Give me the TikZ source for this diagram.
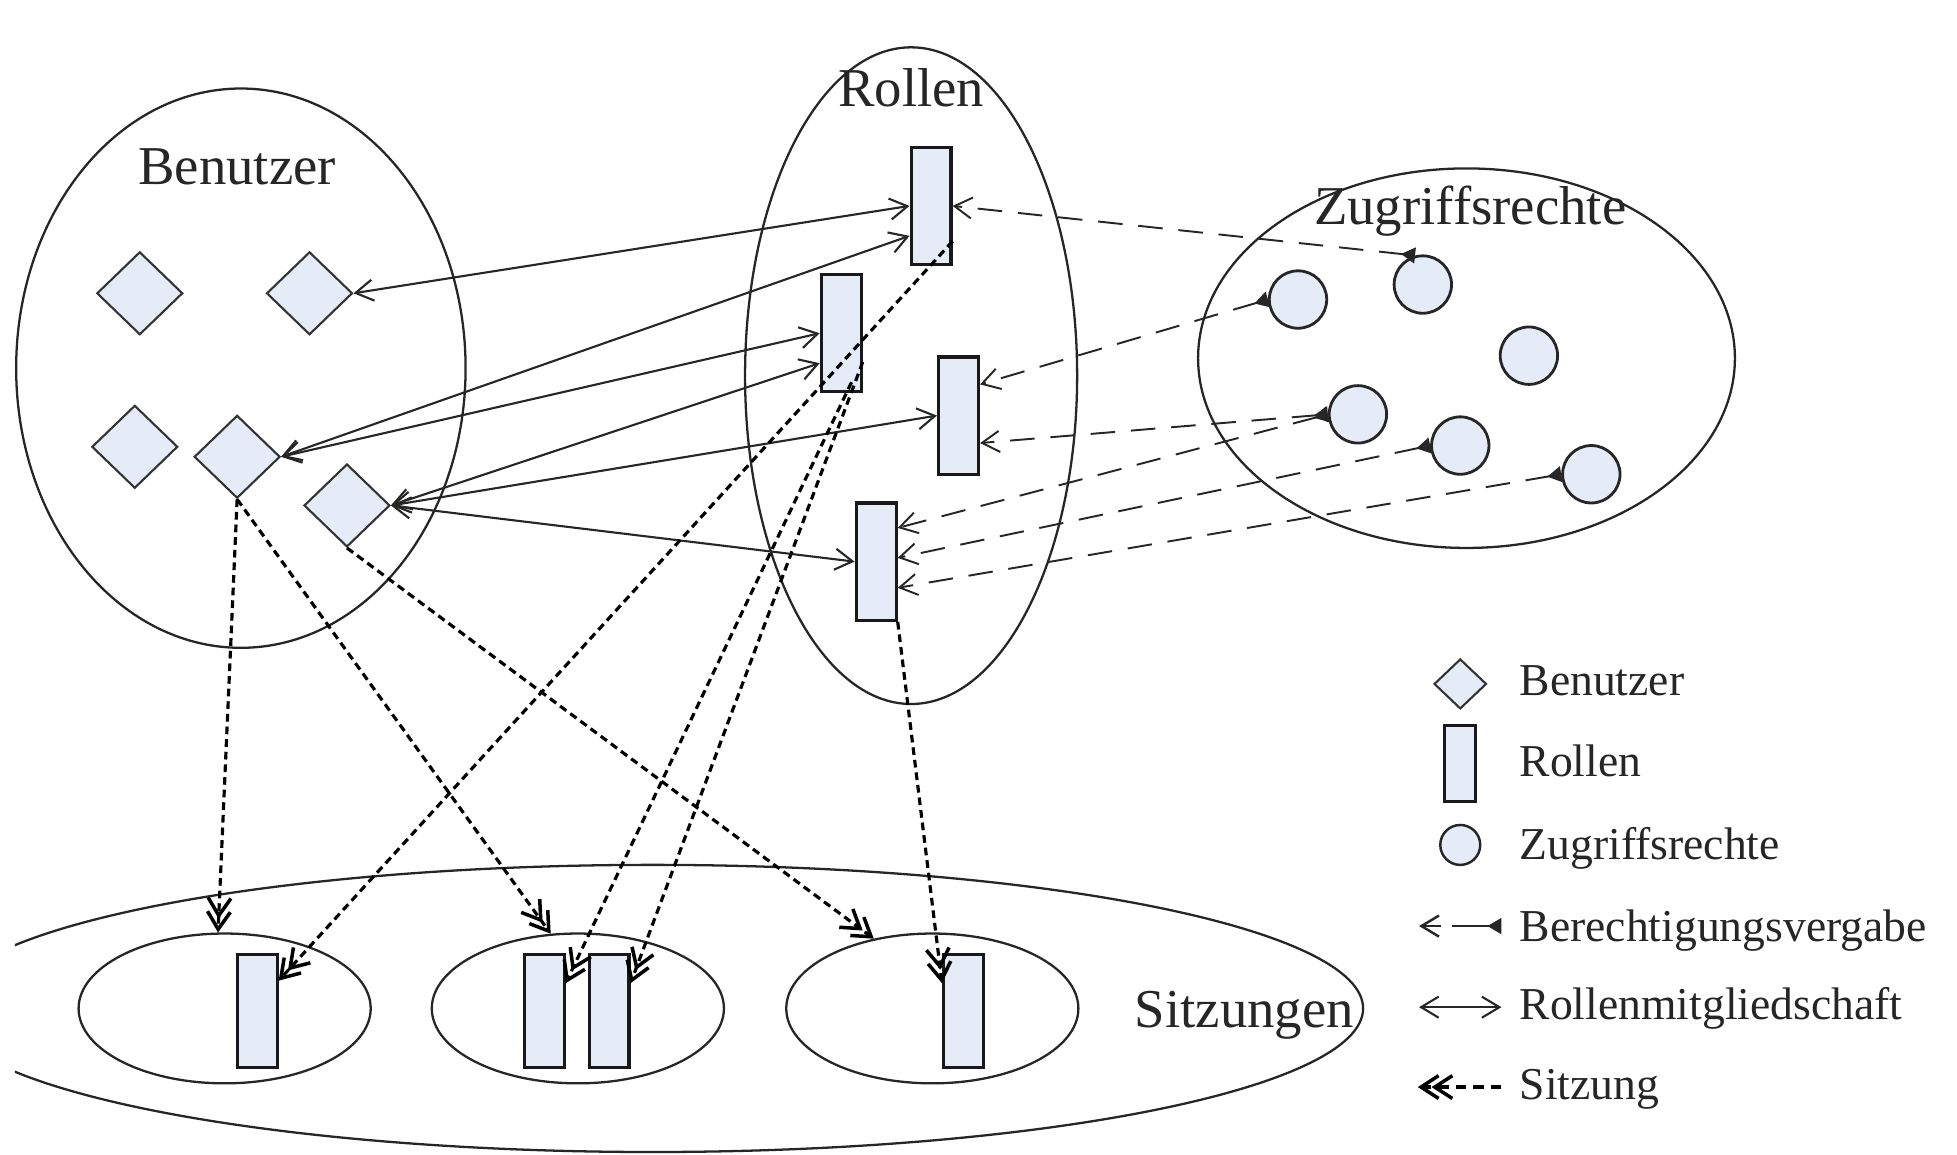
\documentclass[tikz,border=0pt]{standalone}
\usepackage{fontspec}
\setmainfont{Liberation Serif}
\usetikzlibrary{shapes.geometric,arrows.meta,calc}
\definecolor{itemfill}{RGB}{229,236,247}

\begin{document}
\begin{tikzpicture}[x=0.0125cm,y=-0.0125cm,
  group/.style={ellipse, draw=black!85, line width=0.65pt, inner sep=0pt},
  title/.style={font=\fontsize{15.6}{18}\selectfont, text=black!85, anchor=base, inner sep=0pt},
  legtext/.style={font=\fontsize{13}{15}\selectfont, text=black!85, anchor=base west, inner sep=0pt},
  user/.style={diamond, draw=black!80, line width=0.6pt, fill=itemfill, inner sep=0pt,
    minimum width=0.86cm, minimum height=0.83cm},
  role/.style={rectangle, draw=black!90, line width=0.9pt, fill=itemfill, inner sep=0pt,
    minimum width=0.4cm, minimum height=1.175cm},
  sessrole/.style={role, minimum height=1.125cm},
  priv/.style={circle, draw=black!85, line width=0.8pt, fill=itemfill, inner sep=0pt,
    minimum size=0.575cm},
  member/.style={line width=0.6pt, draw=black!85,
    {Straight Barb[length=5pt,width=6pt]}-{Straight Barb[length=5pt,width=6pt]}},
  grant/.style={line width=0.55pt, draw=black!85, dash pattern=on 7pt off 4.5pt,
    {Triangle[reversed,length=4pt,width=4.5pt]}-{Straight Barb[length=5pt,width=6pt]}},
  sitzung/.style={line width=0.9pt, draw=black, dash pattern=on 2.2pt off 1.4pt,
    -{Straight Barb[length=5pt,width=6.5pt,line width=1pt,sep=-2.5pt]Straight Barb[length=5pt,width=6.5pt,line width=1pt]}},
]
\useasboundingbox (0,0) rectangle (1568,925);
\clip (0,0) rectangle (1568,925);

% the four sets; the session set runs off the left edge of the figure
\node[group, minimum width=4.5cm, minimum height=5.6cm] (users) at (193,295) {};
\node[group, minimum width=3.325cm, minimum height=6.575cm] (roles) at (730,301) {};
\node[group, minimum width=5.375cm, minimum height=3.8cm] (rights) at (1175,287) {};
\begin{scope}
  \clip (12,0) rectangle (1568,925);
  \node[group, minimum width=14.225cm, minimum height=2.875cm] (sessions) at (523,808) {};
\end{scope}
\node[group, minimum width=2.925cm, minimum height=1.5cm] (S1) at (180,808) {};
\node[group, minimum width=2.925cm, minimum height=1.5cm] (S2) at (463,808) {};
\node[group, minimum width=2.925cm, minimum height=1.5cm] (S3) at (747,808) {};

% set titles
\node[title] (tUsers) at (190,148) {Benutzer};
\node[title] (tRoles) at (730,85) {Rollen};
\node[title] (tRights) at (1178,180) {Zugriffsrechte};
\node[title] (tSessions) at (997,823) {Sitzungen};

% users
\node[user] (D1) at (112,235) {};
\node[user] (D2) at (248,235) {};
\node[user] (D3) at (108,358) {};
\node[user] (D4) at (190,366) {};
\node[user] (D5) at (278,405) {};

% roles
\node[role] (R1) at (746,165) {};
\node[role] (R2) at (674,267) {};
\node[role] (R3) at (768,333) {};
\node[role] (R4) at (702,450) {};

% access rights
\node[priv] (C1) at (1040,240) {};
\node[priv] (C2) at (1140,228) {};
\node[priv] (C3) at (1225,285) {};
\node[priv] (C4) at (1088,332) {};
\node[priv] (C5) at (1170,357) {};
\node[priv] (C6) at (1275,380) {};

% roles active in the sessions
\node[sessrole] (Q1) at (206,810) {};
\node[sessrole] (Q2a) at (436,810) {};
\node[sessrole] (Q2b) at (488,810) {};
\node[sessrole] (Q3) at (772,810) {};

% role membership
\draw[member] (D2.east) -- (R1.west);
\draw[member] (D4.east) -- ($(R1.west)+(0,24)$);
\draw[member] (D4.east) -- (R2.west);
\draw[member] (D5.east) -- ($(R2.west)+(0,24)$);
\draw[member] (D5.east) -- (R3.west);
\draw[member] (D5.east) -- (R4.west);

% permission assignment
\draw[grant] (C2.105) -- (R1.east);
\draw[grant] (C1.west) -- ($(R3.east)+(0,-25)$);
\draw[grant] (C4.west) -- ($(R3.east)+(0,22)$);
\draw[grant] (C4.west) -- ($(R4.east)+(0,-27)$);
\draw[grant] (C5.west) -- ($(R4.east)+(0,-3)$);
\draw[grant] (C6.west) -- ($(R4.east)+(0,21)$);

% sessions
\draw[sitzung] (D4.south) -- (S1.95);
\draw[sitzung] (D4.south) -- (S2.110);
\draw[sitzung] (D5.south) -- (S3.130);
\draw[sitzung] ($(R1.south east)+(0,-20)$) -- ($(Q1.north east)+(0,22)$);
\draw[sitzung] ($(R2.east)+(0,23)$) -- ($(Q2b.north east)+(0,24)$);
\draw[sitzung] ($(R2.south east)+(-9,-9)$) -- ($(Q2a.north east)+(0,24)$);
\draw[sitzung] (R4.south east) -- ($(Q3.north west)+(0,24)$);

% legend
\node[user, minimum width=0.525cm, minimum height=0.5cm] (lD) at (1170,548) {};
\node[role, line width=0.8pt, minimum width=0.31cm, minimum height=0.76cm] (lR) at (1170,612) {};
\node[priv, line width=0.7pt, minimum size=0.4cm] (lC) at (1170,677) {};
\node[legtext] (lDt) at (1217,557) {Benutzer};
\node[legtext] (lRt) at (1217,622) {Rollen};
\node[legtext] (lCt) at (1217,689) {Zugriffsrechte};
\node[legtext] (lGt) at (1217,754) {Berechtigungsvergabe};
\node[legtext] (lMt) at (1217,817) {Rollenmitgliedschaft};
\node[legtext] (lSt) at (1217,881) {Sitzung};

\coordinate (lGa) at (1203,742);
\coordinate (lGb) at (1137,742);
\coordinate (lMa) at (1137,807);
\coordinate (lMb) at (1203,807);
\coordinate (lSa) at (1203,871);
\coordinate (lSb) at (1136,871);
\draw[grant, line width=0.7pt, dash pattern=on 11pt off 3.2pt on 20pt] (lGa) -- (lGb);
\draw[member] (lMa) -- (lMb);
\draw[sitzung, dash pattern=on 3pt off 2pt] (lSa) -- (lSb);
\end{tikzpicture}
\end{document}
